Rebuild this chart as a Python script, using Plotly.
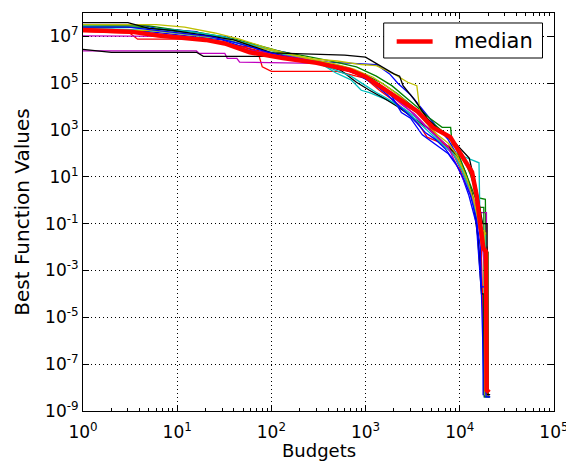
import plotly.graph_objects as go

# Best-so-far function value of each independent run, sampled at the budgets
# where the value changed (line colours cycle b, g, r, c, m, y, k).
run_budgets = [
    [1, 4, 6, 16, 20, 32, 45, 80, 150, 250, 400, 700, 1300, 1800, 2200, 3000, 4000, 5500, 7500, 9500, 12000, 14500, 16000, 17600, 17700, 21000],
    [1, 5, 9, 18, 40, 75, 130, 240, 420, 800, 1300, 1900, 2700, 3600, 4800, 6500, 8000, 8300, 10500, 13000, 15500, 18700, 19000, 20000, 20100, 21000],
    [1, 3, 3.8, 14, 25, 45, 70, 80, 100, 500, 800, 1000, 1400, 2000, 2800, 3600, 4500, 6000, 7800, 9500, 12000, 14500, 16800, 18500, 20000],
    [1, 3, 8, 14, 30, 55, 100, 170, 300, 480, 700, 900, 1100, 1900, 2600, 3500, 4500, 6000, 8000, 10500, 16000, 16500, 19000, 19200, 20500],
    [1, 16, 17, 32, 34, 43, 46, 300, 500, 800, 1200, 1700, 2500, 3300, 4300, 5500, 7000, 9000, 11000, 13000, 15000, 16500, 19200, 19400, 20500],
    [1, 6, 12, 25, 45, 90, 150, 280, 500, 900, 1300, 2000, 2800, 3500, 3800, 4500, 6200, 8500, 9500, 11500, 14000, 16500, 19000, 19200, 20500],
    [1, 2, 16, 19, 110, 200, 330, 550, 800, 1100, 1600, 2200, 3000, 3800, 4700, 6000, 7500, 9500, 11500, 13500, 15500, 17000, 18000, 18200, 20000],
    [1, 2, 5, 12, 30, 60, 100, 180, 320, 500, 800, 1200, 1800, 2400, 3000, 4000, 5000, 7500, 10000, 12500, 15000, 17000, 18200, 21000],
    [1, 4, 8, 15, 28, 55, 95, 170, 320, 600, 1000, 1500, 2200, 3200, 4200, 5500, 7000, 9000, 11000, 13500, 16000, 18000, 18300, 20500],
    [1, 2, 6, 10, 25, 50, 90, 200, 400, 700, 1100, 1500, 1900, 2500, 3400, 4200, 5000, 6500, 8500, 10500, 13000, 15500, 17500, 19500, 19600, 20500],
    [1, 3, 7, 15, 30, 50, 90, 150, 260, 450, 700, 1000, 1300, 1700, 2500, 3500, 5000, 6500, 8500, 10500, 12500, 15000, 17000, 19000, 19100, 20000],
    [1, 3, 8, 18, 35, 60, 120, 230, 400, 700, 1100, 1600, 2200, 3000, 4200, 5800, 7500, 9000, 11000, 13500, 16000, 18500, 18700, 20000],
    [1, 5, 10, 20, 40, 70, 130, 250, 450, 750, 1200, 1700, 2400, 3300, 4400, 5800, 7500, 9500, 12000, 14500, 16500, 18300, 18500, 20000],
    [1, 3, 5, 9, 20, 40, 100, 600, 1000, 1500, 2000, 2300, 2500, 3300, 4500, 6000, 8500, 12600, 15000, 17500, 19500, 19600, 21000],
    [1, 3, 6, 11, 22, 45, 80, 140, 260, 480, 800, 1200, 1700, 2300, 2800, 3500, 4300, 5500, 7000, 9000, 11000, 13000, 15000, 16500, 17000, 18800, 19000, 21000],
]

run_values = [
    [3.2e7, 3.2e7, 2.2e7, 1.6e7, 1.1e7, 1.0e7, 6.3e6, 3.2e6, 2.0e6, 1.0e6, 7.9e5, 7.1e5, 6.3e5, 2.5e5, 1.0e5, 3.2e4, 7.9e3, 1.6e3, 4.0e2, 79, 7.9, 0.5, 1e-2, 2.5e-5, 5e-9, 5e-9],
    [2.8e7, 2.8e7, 2.0e7, 1.4e7, 7.9e6, 4.0e6, 2.2e6, 1.4e6, 9.0e5, 5.0e5, 2.0e5, 7.9e4, 2.5e4, 8.9e3, 3.2e3, 1.3e3, 1.3e3, 2.5e2, 1.0e2, 12, 1.3, 1.1, 6e-3, 6e-3, 4e-9, 4e-9],
    [2.0e7, 1.6e7, 7.6e6, 7.6e6, 6.3e6, 4.0e6, 3.2e6, 5.0e5, 3.2e5, 3.2e5, 2.0e5, 1.6e5, 5.0e4, 1.8e4, 5.6e3, 2.0e3, 5.0e2, 3.2e2, 2.0e2, 50, 7.9, 0.6, 2.5e-2, 6e-9, 6e-9],
    [2.8e7, 2.5e7, 2.0e7, 1.6e7, 1.0e7, 5.0e6, 2.5e6, 1.4e6, 8.9e5, 2.8e5, 1.4e5, 5.0e4, 4.0e4, 1.6e4, 7.9e3, 3.2e3, 1.3e3, 4.0e2, 1.3e2, 80, 40, 3e-2, 3e-2, 5e-9, 5e-9],
    [2.4e6, 2.4e6, 1.9e6, 1.9e6, 1.15e6, 1.15e6, 7.9e5, 7.1e5, 5.6e5, 2.8e5, 1.1e5, 4.0e4, 1.1e4, 5.0e3, 1.6e3, 6.3e2, 2.0e2, 70, 20, 2.5, 0.6, 0.3, 0.3, 5e-9, 5e-9],
    [3.2e7, 3.2e7, 2.5e7, 1.4e7, 7.9e6, 3.2e6, 1.8e6, 1.1e6, 8.9e5, 6.3e5, 5.6e5, 2.5e5, 1.1e5, 7.9e4, 5.6e3, 3.2e3, 2.8e2, 1.1e2, 63, 10, 1.3, 4e-2, 4e-2, 5e-9, 5e-9],
    [2.8e6, 2.1e6, 2.1e6, 1.4e6, 1.4e6, 1.1e6, 7.1e5, 3.5e5, 1.1e5, 5.0e4, 2.2e4, 1.0e4, 4.0e3, 2.0e3, 1.1e3, 4.5e2, 2.0e2, 80, 16, 2.0, 3e-2, 1e-4, 1e-4, 6e-9, 6e-9],
    [2.0e7, 2.0e7, 1.6e7, 1.1e7, 7.1e6, 2.8e6, 1.6e6, 1.0e6, 7.1e5, 5.0e5, 2.5e5, 1.0e5, 4.0e4, 5.6e3, 3.2e3, 6.3e2, 3.2e2, 1.0e2, 20, 1.6, 0.1, 1e-4, 4e-9, 4e-9],
    [2.5e7, 2.5e7, 1.8e7, 1.3e7, 8.9e6, 4.0e6, 2.2e6, 1.3e6, 7.9e5, 5.0e5, 2.2e5, 1.0e5, 3.5e4, 1.0e4, 3.5e3, 1.6e3, 7.1e2, 2.0e2, 25, 3.2, 0.5, 0.5, 4e-9, 4e-9],
    [1.6e7, 1.5e7, 1.3e7, 9.0e6, 6.3e6, 3.5e6, 2.0e6, 1.0e6, 5.6e5, 3.2e5, 1.6e5, 6.3e4, 3.2e4, 1.3e4, 6.3e3, 3.2e3, 1.0e3, 3.2e2, 1.0e2, 16, 2.5, 0.16, 1e-2, 1e-2, 5e-9, 5e-9],
    [2.2e7, 2.0e7, 1.6e7, 1.1e7, 7.9e6, 4.5e6, 2.8e6, 1.6e6, 8.9e5, 4.0e5, 2.0e5, 7.9e4, 4.0e4, 2.2e4, 7.9e3, 2.5e3, 6.3e2, 2.5e2, 1.0e2, 20, 3.2, 0.25, 3e-2, 3e-2, 5e-9, 5e-9],
    [1.05e7, 1.0e7, 1.0e7, 7.1e6, 4.5e6, 2.5e6, 1.6e6, 1.1e6, 6.3e5, 3.5e5, 1.3e5, 5.0e4, 2.0e4, 6.3e3, 1.6e3, 5.0e2, 2.0e2, 40, 7.9, 1.3, 0.25, 1e-3, 5e-9, 5e-9],
    [1.8e7, 1.8e7, 1.4e7, 1.0e7, 7.1e6, 3.5e6, 2.0e6, 1.1e6, 7.1e5, 4.0e5, 1.8e5, 7.1e4, 2.5e4, 7.9e3, 2.0e3, 6.3e2, 2.8e2, 79, 7.9, 0.63, 5e-2, 5e-2, 5e-9, 5e-9],
    [3.9e7, 3.9e7, 2.2e7, 1.8e7, 1.1e7, 7.1e6, 2.0e6, 1.6e6, 1.3e6, 5.0e5, 2.5e5, 2.0e5, 7.9e4, 2.0e4, 3.2e3, 1.0e3, 3.5e2, 63, 3.2, 0.1, 0.1, 5e-9, 5e-9],
    [2.5e7, 2.5e7, 1.8e7, 1.4e7, 1.0e7, 5.0e6, 2.5e6, 1.4e6, 8.9e5, 5.0e5, 2.5e5, 1.0e5, 3.2e4, 1.0e4, 5.0e3, 2.0e3, 7.9e2, 4.0e2, 1.6e2, 40, 7.9, 1.6, 0.16, 1e-2, 2e-4, 2e-4, 4e-9, 4e-9],
]

# Median over the runs
median_budgets = [1, 2, 3.2, 6.3, 10, 20, 32, 59, 132, 302, 676, 1000, 1510, 2290, 3550, 5250,
                  7940, 10000, 13500, 15100, 16200, 17800, 19000, 19300, 20500]
median_values = [1.9e7, 1.8e7, 1.6e7, 1.1e7, 9.5e6, 7.1e6, 5.0e6, 2.1e6, 1.2e6, 7.4e5, 3.7e5,
                 1.9e5, 6.3e4, 2.0e4, 6.3e3, 1.26e3, 5.0e2, 1.1e2, 16, 1.6, 0.16, 9e-3, 6.3e-3,
                 7.9e-9, 6.3e-9]
median_name = "median"

x_ticks = [1, 10, 100, 1e3, 1e4, 1e5]
x_labels = ["10<sup>0</sup>", "10<sup>1</sup>", "10<sup>2</sup>", "10<sup>3</sup>",
            "10<sup>4</sup>", "10<sup>5</sup>"]
y_ticks = [1e-9, 1e-7, 1e-5, 1e-3, 1e-1, 1e1, 1e3, 1e5, 1e7]
y_labels = ["10<sup>-9</sup>", "10<sup>-7</sup>", "10<sup>-5</sup>", "10<sup>-3</sup>",
            "10<sup>-1</sup>", "10<sup>1</sup>", "10<sup>3</sup>", "10<sup>5</sup>",
            "10<sup>7</sup>"]
x_title = "Budgets"
y_title = "Best Function Values"

cycle = ["#0000ff", "#008000", "#ff0000", "#00bfbf", "#bf00bf", "#bfbf00", "#000000"]
FONT = "DejaVu Sans"
MEDIAN_COLOR = "#ff0000"
MEDIAN_WIDTH = 4.5

fig = go.Figure()
for i, (bx, vy) in enumerate(zip(run_budgets, run_values)):
    fig.add_trace(go.Scatter(
        x=bx, y=vy, mode="lines",
        line=dict(color=cycle[i % len(cycle)], width=1.3),
        showlegend=False, hoverinfo="skip",
    ))

fig.add_trace(go.Scatter(
    x=median_budgets, y=median_values, mode="lines", name=median_name,
    line=dict(color=MEDIAN_COLOR, width=MEDIAN_WIDTH), showlegend=False,
))

axis_common = dict(
    type="log",
    showline=True, linecolor="black", linewidth=1, mirror="ticks",
    ticks="inside", tickcolor="black", ticklen=6, tickwidth=1,
    showgrid=True, gridcolor="black", gridwidth=1, griddash="1px,3px",
    zeroline=False, automargin=False, ticklabeloverflow="allow",
    tickfont=dict(family=FONT, size=17, color="black"),
    tickmode="array",
)

# Legend box in the upper right of the axes (paper coords span the plot area)
lg_x0, lg_x1, lg_y0, lg_y1 = 0.6384, 0.9756, 0.8869, 0.9749
lg_line_x0, lg_line_x1, lg_row_y = 0.6660, 0.7423, 0.9284
lg_text_x = 0.7826

fig.add_shape(type="rect", xref="paper", yref="paper",
              x0=lg_x0, x1=lg_x1, y0=lg_y0, y1=lg_y1,
              fillcolor="white", line=dict(color="black", width=1), layer="above")
fig.add_shape(type="line", xref="paper", yref="paper",
              x0=lg_line_x0, x1=lg_line_x1, y0=lg_row_y, y1=lg_row_y,
              line=dict(color=MEDIAN_COLOR, width=MEDIAN_WIDTH), layer="above")
fig.add_annotation(text=median_name, xref="paper", yref="paper",
                   x=lg_text_x, y=lg_row_y, xanchor="left", yanchor="middle",
                   showarrow=False, font=dict(family=FONT, size=21, color="black"))

# x-axis title sits low enough that its descenders run off the bottom edge
fig.add_annotation(text=x_title, xref="paper", yref="paper",
                   x=0.5, y=0, xanchor="center", yanchor="top", yshift=-27,
                   showarrow=False, font=dict(family=FONT, size=18, color="black"))

fig.update_layout(
    width=566, height=461,
    margin=dict(l=83, r=12, t=13, b=50),
    paper_bgcolor="white", plot_bgcolor="white",
    font=dict(family=FONT, color="black"),
    showlegend=False,
    xaxis=dict(
        axis_common, range=[0, 5.0005], tickvals=x_ticks, ticktext=x_labels,
        ticklabelstandoff=6,
        minor=dict(ticks="inside", ticklen=3, tickcolor="black", dtick="D1", showgrid=False),
    ),
    yaxis=dict(
        axis_common, range=[-9, 8], tickvals=y_ticks, ticktext=y_labels,
        ticklabelstandoff=0,
        title=dict(text=y_title, font=dict(family=FONT, size=20, color="black"), standoff=10),
    ),
)

fig.write_html("out.html")
